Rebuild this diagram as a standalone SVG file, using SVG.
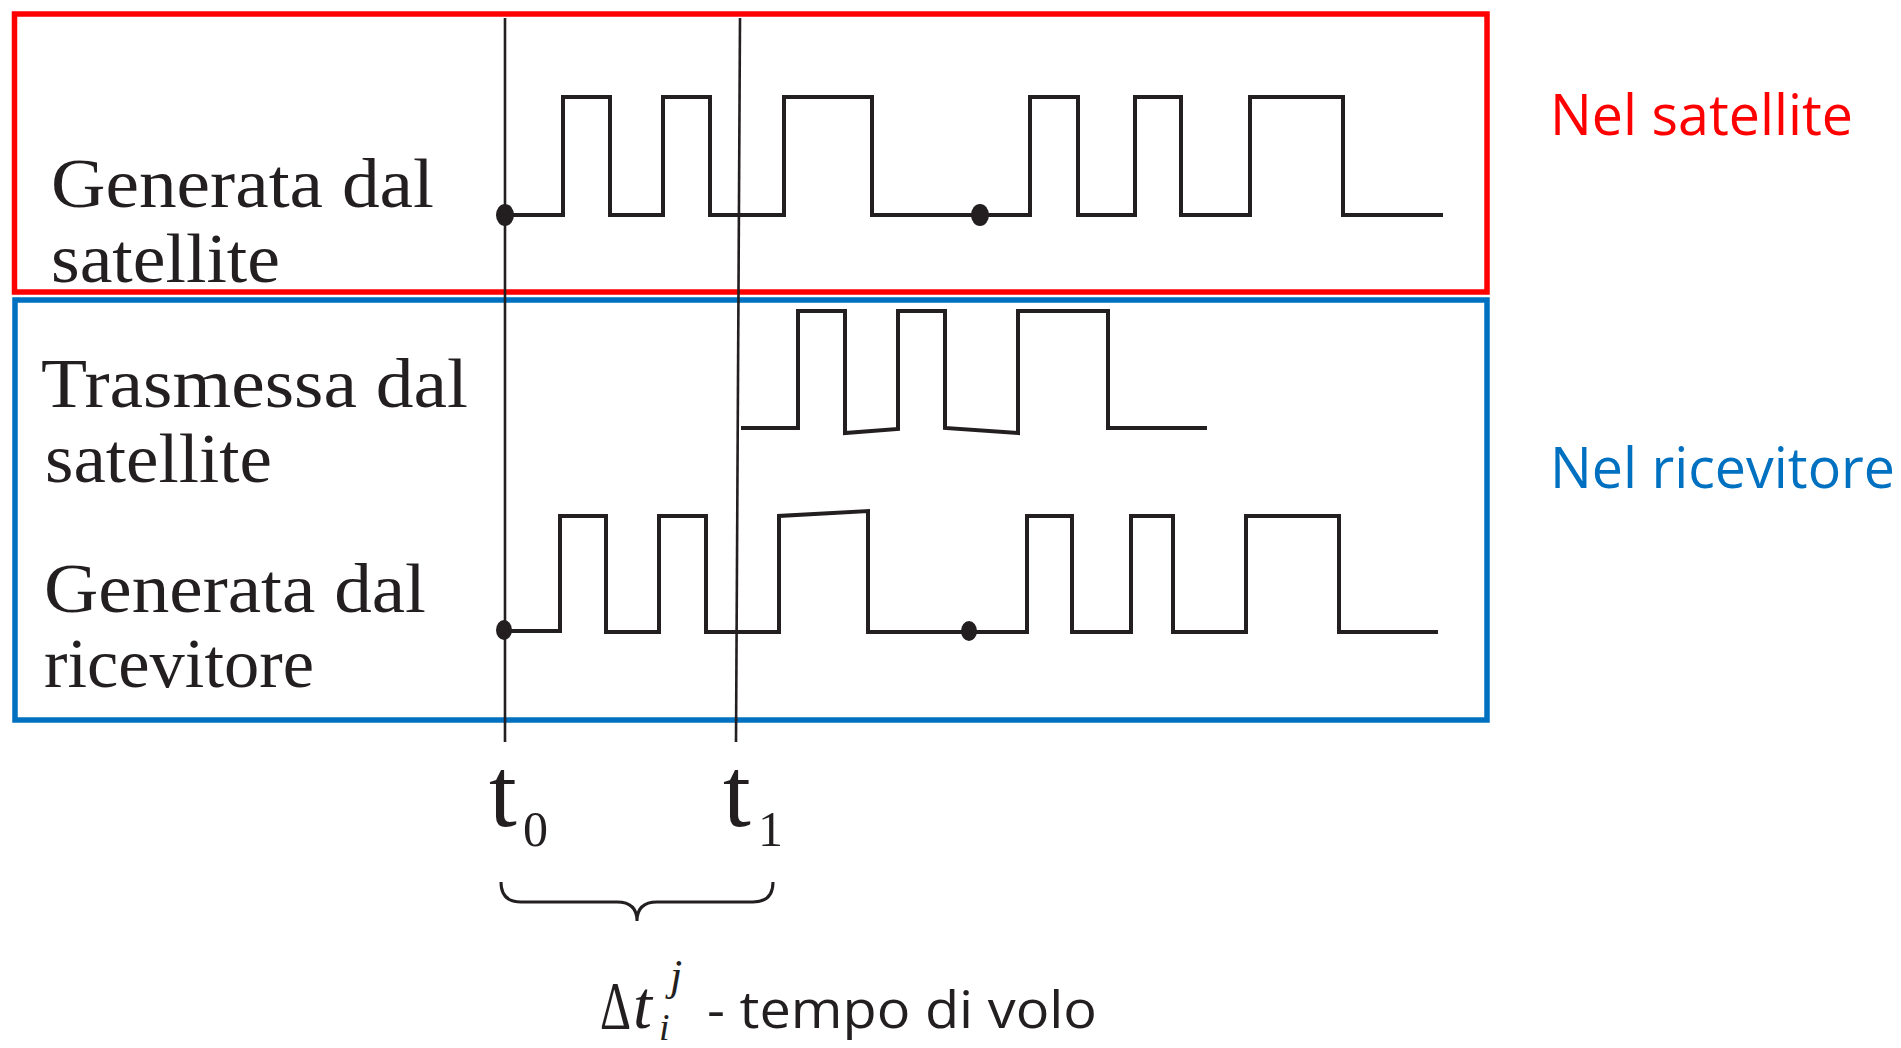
<svg xmlns="http://www.w3.org/2000/svg" width="1901" height="1048" viewBox="0 0 1901 1048">
<style>
.frame{fill:none;stroke-width:5.5}
.sig{fill:none;stroke:#231F20;stroke-width:4;stroke-linejoin:miter;stroke-linecap:butt}
.tl{fill:none;stroke:#231F20;stroke-width:2.6}
.dot{fill:#231F20}
.lbl{font-family:"Liberation Serif",serif;font-size:70px;fill:#231F20}
.tlab{font-family:"Liberation Serif",serif;fill:#231F20}
.side{font-family:"Open Sans","Liberation Sans",sans-serif;font-size:57px}
</style>
<rect width="1901" height="1048" fill="#fff"/>
<g id="frame-satellite"><rect class="frame" x="14.5" y="14" width="1472.5" height="278" stroke="#FF0000"/></g>
<g id="frame-receiver"><rect class="frame" x="15" y="300" width="1472" height="420" stroke="#0070C0"/></g>
<g id="time-lines">
<line class="tl" x1="505" y1="18" x2="505" y2="742"/>
<line class="tl" x1="740" y1="18" x2="736" y2="742"/>
</g>
<g id="signal-generated-satellite">
<path class="sig" d="M505,215 H563 V97 H610 V215 H663 V97 H710 V215 H784 V97 H872 V215 H1030 V97 H1078 V215 H1135 V97 H1181 V215 H1250 V97 H1343 V215 H1443"/>
<ellipse class="dot" cx="505" cy="215" rx="9" ry="11"/>
<ellipse class="dot" cx="980" cy="215" rx="9" ry="11"/>
</g>
<g id="signal-transmitted">
<path class="sig" d="M741,428 H798 V311 H845 V433 L898,429 V311 H945 V428 L1018,433 V311 H1108 V428 H1207"/>
</g>
<g id="signal-generated-receiver">
<path class="sig" d="M505,631 H560 V516 H606 V632 H659 V516 H706 V632 H779 V516 L868,511 V632 H1027 V516 H1072 V632 H1131 V516 H1173 V632 H1246 V516 H1339 V632 H1438"/>
<ellipse class="dot" cx="504" cy="630" rx="8" ry="10"/>
<ellipse class="dot" cx="969" cy="631" rx="8" ry="10"/>
</g>
<g id="labels-left">
<text class="lbl" x="51" y="207" textLength="383" lengthAdjust="spacingAndGlyphs">Generata dal</text>
<text class="lbl" x="51" y="282" textLength="229" lengthAdjust="spacingAndGlyphs">satellite</text>
<text class="lbl" x="41" y="407" textLength="427" lengthAdjust="spacingAndGlyphs">Trasmessa dal</text>
<text class="lbl" x="45" y="482" textLength="227" lengthAdjust="spacingAndGlyphs">satellite</text>
<text class="lbl" x="44" y="612" textLength="382" lengthAdjust="spacingAndGlyphs">Generata dal</text>
<text class="lbl" x="44" y="687" textLength="270" lengthAdjust="spacingAndGlyphs">ricevitore</text>
</g>
<g id="labels-right">
<text class="side" x="1550" y="135" fill="#FF0000" textLength="303" lengthAdjust="spacingAndGlyphs">Nel satellite</text>
<text class="side" x="1550" y="488" fill="#0070C0" textLength="345" lengthAdjust="spacingAndGlyphs">Nel ricevitore</text>
</g>
<g id="time-labels">
<text class="tlab" x="489" y="826" font-size="100">t</text>
<text class="tlab" x="523" y="846" font-size="50">0</text>
<text class="tlab" x="723" y="826" font-size="100">t</text>
<text class="tlab" x="758" y="846" font-size="50">1</text>
</g>
<g id="brace">
<path fill="none" stroke="#231F20" stroke-width="3" d="M501,882 Q501,902 521,902 H617 Q637,902 637,921 Q637,902 657,902 H753 Q773,902 773,882"/>
</g>
<g id="caption">
<text class="tlab" x="600" y="1028" font-size="68" textLength="31" lengthAdjust="spacingAndGlyphs">Δ</text>
<text class="tlab" x="633" y="1028" font-size="68" font-style="italic">t</text>
<text class="tlab" x="670" y="990" font-size="44" font-style="italic">j</text>
<text class="tlab" x="659" y="1040" font-size="38" font-style="italic">i</text>
<text x="707" y="1028" font-family="Open Sans,Liberation Sans,sans-serif" font-size="51" fill="#231F20" textLength="390" lengthAdjust="spacingAndGlyphs">- tempo di volo</text>
</g>
</svg>
